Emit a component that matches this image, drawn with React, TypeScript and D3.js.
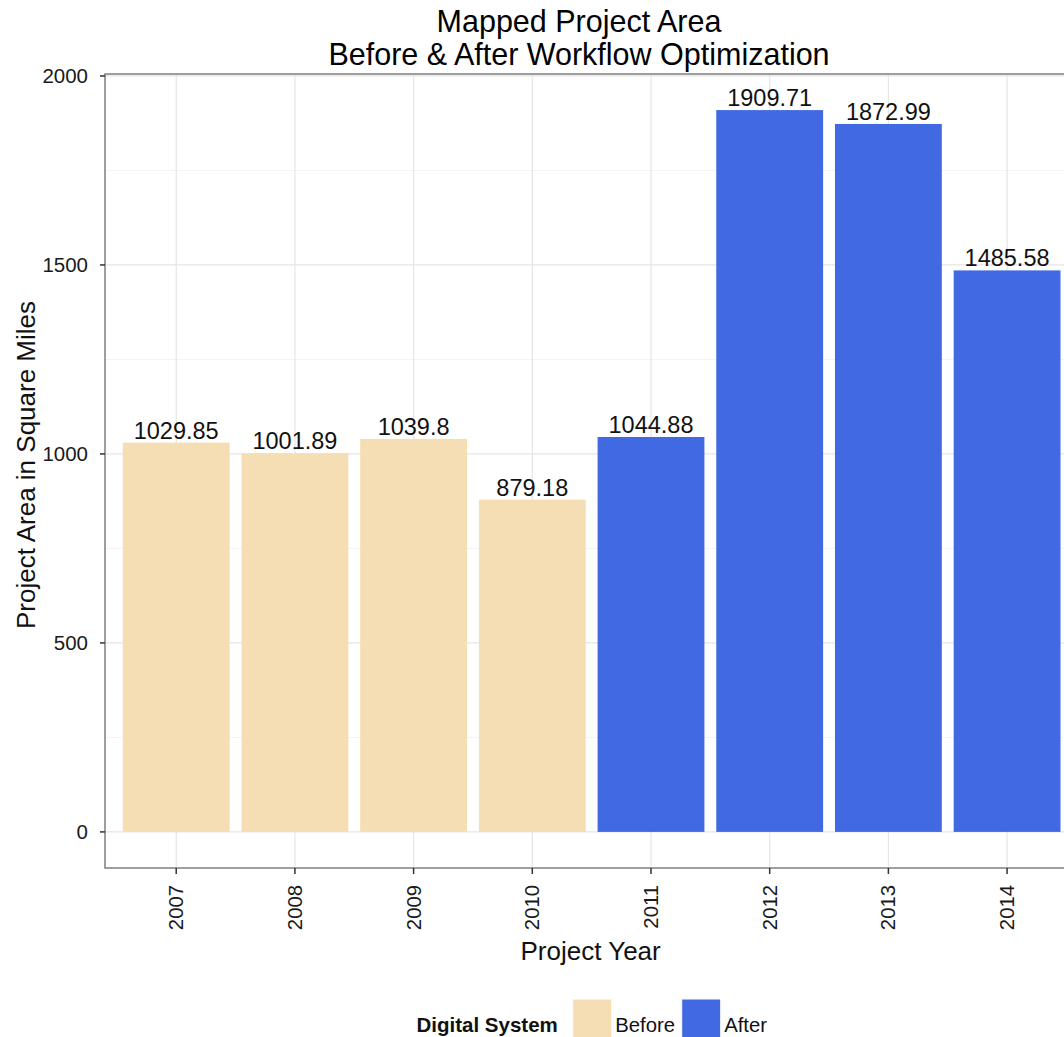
import React from "react";
import * as d3 from "d3";

// Project years and mapped area (square miles)
const years = ["2007", "2008", "2009", "2010", "2011", "2012", "2013", "2014"];
const areas = [1029.85, 1001.89, 1039.8, 879.18, 1044.88, 1909.71, 1872.99, 1485.58];
const systems = ["Before", "Before", "Before", "Before", "After", "After", "After", "After"];

const legendLevels = ["Before", "After"];
const legendColors = ["#F5DEB3", "#4169E1"];

const yMajorTicks = [0, 500, 1000, 1500, 2000];
const yMinorTicks = [250, 750, 1250, 1750];

const FONT = "'Liberation Sans', Arial, Helvetica, sans-serif";

export default function App() {
  const width = 1064;
  const height = 1037;

  const panel = { left: 105, right: 1078.3, top: 74, bottom: 868 };

  const maxVal = d3.max(areas) as number;
  const pad = maxVal * 0.05;

  const x = d3
    .scaleBand<string>()
    .domain(years)
    .range([panel.left, panel.right])
    .paddingInner(0.1)
    .paddingOuter(0.15);

  const y = d3
    .scaleLinear()
    .domain([0 - pad, maxVal + pad])
    .range([panel.bottom, panel.top]);

  const color = d3.scaleOrdinal<string, string>().domain(legendLevels).range(legendColors);

  const data = years.map((yr, i) => ({ year: yr, value: areas[i], system: systems[i] }));
  const fmt = (v: number) => String(v);

  return (
    <svg
      width={width}
      height={height}
      style={{ position: "absolute", left: 0, top: 0, background: "#fff" }}
      fontFamily={FONT}
    >
      <defs>
        <clipPath id="panel-clip">
          <rect x={panel.left} y={panel.top} width={panel.right - panel.left} height={panel.bottom - panel.top} />
        </clipPath>
      </defs>

      {/* title */}
      <text x={579} y={31.5} textAnchor="middle" fontSize={30.5} fill="#000">
        Mapped Project Area
      </text>
      <text x={579} y={65} textAnchor="middle" fontSize={30.5} fill="#000">
        Before &amp; After Workflow Optimization
      </text>

      {/* panel background and grid */}
      <rect x={panel.left} y={panel.top} width={panel.right - panel.left} height={panel.bottom - panel.top} fill="#fff" />
      <g clipPath="url(#panel-clip)">
        {yMinorTicks.map((t) => (
          <line key={"mn" + t} x1={panel.left} x2={panel.right} y1={y(t)} y2={y(t)} stroke="#F3F3F3" strokeWidth={1} />
        ))}
        {yMajorTicks.map((t) => (
          <line key={"mj" + t} x1={panel.left} x2={panel.right} y1={y(t)} y2={y(t)} stroke="#E5E5E5" strokeWidth={1.2} />
        ))}
        {years.map((yr) => {
          const cx = (x(yr) as number) + x.bandwidth() / 2;
          return <line key={"vx" + yr} x1={cx} x2={cx} y1={panel.top} y2={panel.bottom} stroke="#E5E5E5" strokeWidth={1.2} />;
        })}

        {/* bars */}
        {data.map((d) => (
          <rect
            key={"b" + d.year}
            x={x(d.year) as number}
            width={x.bandwidth()}
            y={y(d.value)}
            height={y(0) - y(d.value)}
            fill={color(d.system)}
          />
        ))}

        {/* value labels */}
        {data.map((d) => (
          <text
            key={"l" + d.year}
            x={(x(d.year) as number) + x.bandwidth() / 2}
            y={y(d.value) - 4}
            textAnchor="middle"
            fontSize={23.5}
            fill="#111"
          >
            {fmt(d.value)}
          </text>
        ))}
      </g>

      {/* panel border */}
      <rect
        x={panel.left}
        y={panel.top}
        width={panel.right - panel.left}
        height={panel.bottom - panel.top}
        fill="none"
        stroke="#7F7F7F"
        strokeWidth={1.5}
      />

      {/* y axis */}
      {yMajorTicks.map((t) => (
        <g key={"yt" + t}>
          <line x1={panel.left - 5} x2={panel.left} y1={y(t)} y2={y(t)} stroke="#333" strokeWidth={1.5} />
          <text x={panel.left - 17} y={y(t)} textAnchor="end" dominantBaseline="central" fontSize={20.5} fill="#1a1a1a">
            {t}
          </text>
        </g>
      ))}

      {/* x axis */}
      {years.map((yr) => {
        const cx = (x(yr) as number) + x.bandwidth() / 2;
        return (
          <g key={"xt" + yr}>
            <line x1={cx} x2={cx} y1={panel.bottom} y2={panel.bottom + 6} stroke="#333" strokeWidth={1.5} />
            <text
              transform={`translate(${cx},${panel.bottom + 17}) rotate(-90)`}
              textAnchor="end"
              dominantBaseline="central"
              fontSize={20.3}
              fill="#1a1a1a"
            >
              {yr}
            </text>
          </g>
        );
      })}

      {/* axis titles */}
      <text x={(panel.left + panel.right) / 2 - 1} y={960} textAnchor="middle" fontSize={26} fill="#111">
        Project Year
      </text>
      <text
        transform={`translate(35,${(panel.top + panel.bottom) / 2 - 6}) rotate(-90)`}
        textAnchor="middle"
        fontSize={26}
        fill="#111"
      >
        Project Area in Square Miles
      </text>

      {/* legend */}
      <text x={416.5} y={1032} fontSize={20.5} fontWeight="bold" fill="#111">
        Digital System
      </text>
      {legendLevels.map((lv, i) => {
        const kx = i === 0 ? 572.7 : 681.7;
        return (
          <g key={"lg" + lv}>
            <rect x={kx} y={999} width={39} height={39} fill={color(lv)} stroke="#fff" strokeWidth={1} />
            <text x={kx + 42.5} y={1032} fontSize={20.3} fill="#111">
              {lv}
            </text>
          </g>
        );
      })}
    </svg>
  );
}
